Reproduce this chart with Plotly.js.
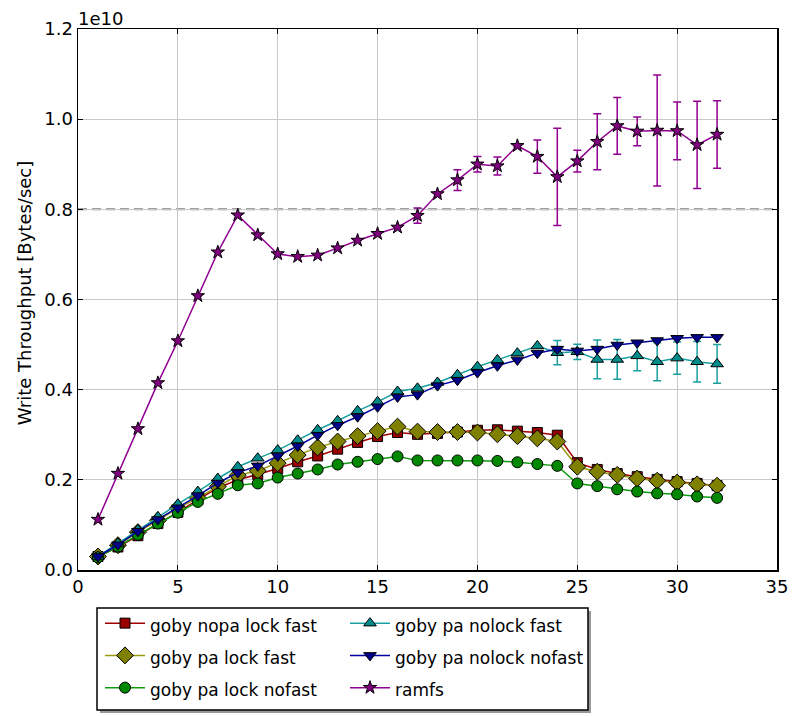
<!DOCTYPE html>
<html>
<head>
<meta charset="utf-8">
<script src="https://cdn.plot.ly/plotly-3.0.1.min.js"></script>
<style>
html,body{margin:0;padding:0;background:#fff;}
#chart{width:799px;height:716px;}
</style>
</head>
<body>
<div id="chart"></div>
<script>
// Thread count (x)
const threads = [1,2,3,4,5,6,7,8,9,10,11,12,13,14,15,16,17,18,19,20,21,22,23,24,25,26,27,28,29,30,31,32];

// Write throughput in units of 1e9 bytes/sec
const nopaLockFast = [0.30,0.51,0.76,1.03,1.28,1.56,1.82,2.00,2.12,2.25,2.40,2.53,2.68,2.83,2.96,3.05,3.01,3.03,3.06,3.10,3.11,3.08,3.05,2.99,2.38,2.23,2.14,2.07,2.01,1.96,1.92,1.87];
const paLockFast = [0.30,0.55,0.84,1.10,1.37,1.60,1.85,2.10,2.20,2.37,2.55,2.72,2.85,2.97,3.08,3.18,3.07,3.06,3.06,3.05,3.01,2.97,2.92,2.85,2.29,2.18,2.11,2.03,1.98,1.94,1.90,1.87];
const paLockNofast = [0.28,0.52,0.78,1.03,1.27,1.51,1.69,1.88,1.92,2.05,2.14,2.23,2.34,2.40,2.46,2.52,2.43,2.43,2.43,2.43,2.42,2.39,2.35,2.31,1.92,1.86,1.79,1.74,1.70,1.68,1.63,1.60];
const paNolockFast = [0.30,0.59,0.89,1.18,1.46,1.74,2.03,2.29,2.48,2.66,2.88,3.11,3.31,3.53,3.73,3.96,4.03,4.16,4.33,4.51,4.66,4.81,4.97,4.82,4.84,4.67,4.67,4.75,4.62,4.70,4.62,4.57];
const paNolockFastErr = [0,0,0,0,0,0,0,0,0,0,0,0,0,0,0,0,0,0,0,0,0,0,0,0.27,0.17,0.43,0.44,0.33,0.42,0.36,0.45,0.43];
const paNolockNofast = [0.30,0.56,0.86,1.12,1.38,1.65,1.93,2.16,2.31,2.53,2.75,2.99,3.21,3.40,3.62,3.84,3.89,4.09,4.21,4.38,4.53,4.66,4.81,4.90,4.86,4.90,4.99,5.04,5.09,5.14,5.16,5.16];
const ramfs = [1.12,2.14,3.13,4.15,5.08,6.08,7.05,7.87,7.43,7.01,6.95,6.98,7.14,7.31,7.46,7.60,7.86,8.34,8.65,9.00,8.96,9.41,9.17,8.72,9.07,9.50,9.85,9.73,9.75,9.74,9.43,9.66];
const ramfsErr = [0,0,0,0,0,0,0,0,0,0,0,0,0,0,0,0,0.17,0.05,0.23,0.17,0.2,0.03,0.37,1.08,0.24,0.62,0.63,0.32,1.23,0.64,0.97,0.75];

// Reference line (1e9 bytes/sec)
const refLine = 8.0;

// Tick labels and texts
const xTicks = [0,5,10,15,20,25,30,35];
const yTickVals = [0,2,4,6,8,10,12];
const yTickText = ['0.0','0.2','0.4','0.6','0.8','1.0','1.2'];
const yTitle = 'Write Throughput [Bytes/sec]';
const offsetText = '1e10';

const seriesNames = ['goby nopa lock fast','goby pa lock fast','goby pa lock nofast','goby pa nolock fast','goby pa nolock nofast','ramfs'];

const scale = 1e9;
const toBytes = a => a.map(v => v * scale);
const legendLabel = s => '<span style="font-size:17px">' + s + '</span>';

function series(name, vals, err, color, lineColor, symbol, size, rank) {
  const t = {
    type: 'scatter', mode: 'lines+markers', name: legendLabel(name),
    x: threads, y: toBytes(vals),
    line: {color: lineColor, width: 1.5},
    marker: {color: color, symbol: symbol, size: size, line: {color: '#000', width: 1}},
    legendrank: rank
  };
  if (err) {
    t.error_y = {type: 'data', array: toBytes(err), visible: true, color: lineColor, thickness: 1.5, width: 4};
  }
  return t;
}

const traces = [
  series(seriesNames[0], nopaLockFast, null, '#990000', '#a00000', 'square', 10, 1),
  series(seriesNames[1], paLockFast, null, '#808000', '#9a9a10', 'diamond', 13, 3),
  series(seriesNames[2], paLockNofast, null, '#008800', '#109a10', 'circle', 11, 5),
  series(seriesNames[3], paNolockFast, paNolockFastErr, '#008b8b', '#1a9f9f', 'triangle-up', 11, 2),
  series(seriesNames[4], paNolockNofast, null, '#000088', '#0000a0', 'triangle-down', 11, 4),
  series(seriesNames[5], ramfs, ramfsErr, '#800080', '#900090', 'star', 10, 6)
];

// pixel -> paper helpers (plot area: x 78..777, y 29..570)
const px2x = p => (p - 78) / 699;
const px2y = p => (570 - p) / 541;

const layout = {
  width: 799, height: 716,
  margin: {l: 78, r: 22, t: 29, b: 146, autoexpand: false},
  paper_bgcolor: '#fff', plot_bgcolor: '#fff',
  font: {family: 'DejaVu Sans', size: 18, color: '#000'},
  showlegend: true,
  xaxis: {
    range: [0, 35], tickvals: xTicks, ticks: 'inside', ticklen: 5, tickwidth: 1, tickcolor: '#000',
    showline: true, linecolor: '#000', linewidth: 1.5, mirror: 'ticks',
    showgrid: true, gridcolor: '#c8c8c8', gridwidth: 1, zeroline: false,
    tickfont: {size: 18}
  },
  yaxis: {
    range: [0, 12e9], tickvals: toBytes(yTickVals), ticktext: yTickText,
    ticks: 'inside', ticklen: 5, tickwidth: 1, tickcolor: '#000',
    showline: true, linecolor: '#000', linewidth: 1.5, mirror: 'ticks',
    showgrid: true, gridcolor: '#c8c8c8', gridwidth: 1, zeroline: false,
    tickfont: {size: 18}
  },
  shapes: [{
    type: 'line', xref: 'paper', x0: 0, x1: 1, yref: 'y', y0: refLine * scale, y1: refLine * scale,
    line: {color: '#808080', width: 2, dash: '9px,5px'}, layer: 'below'
  }, {
    type: 'rect', xref: 'paper', yref: 'paper', x0: px2x(100), x1: px2x(591), y0: px2y(611), y1: px2y(713),
    line: {width: 0}, fillcolor: '#9a9a9a', layer: 'above'
  }, {
    type: 'rect', xref: 'paper', yref: 'paper', x0: px2x(97), x1: px2x(588), y0: px2y(608), y1: px2y(710),
    line: {width: 1.5, color: '#000'}, fillcolor: '#fff', layer: 'above'
  }],
  annotations: [{
    text: offsetText, xref: 'paper', yref: 'paper', x: 0, y: 1, xanchor: 'left', yanchor: 'bottom',
    showarrow: false, font: {size: 18}, xshift: -2, yshift: -2.3
  }, {
    text: yTitle, xref: 'paper', yref: 'paper', x: px2x(24.7), y: px2y(292.5),
    xanchor: 'center', yanchor: 'middle', textangle: -90, showarrow: false, font: {size: 18}
  }],
  legend: {
    orientation: 'h', x: px2x(100), y: px2y(602), xanchor: 'left', yanchor: 'top',
    borderwidth: 0, bgcolor: 'rgba(0,0,0,0)', font: {size: 22.5}, entrywidth: 190, itemwidth: 40
  }
};

Plotly.newPlot('chart', traces, layout, {displayModeBar: false, staticPlot: true});
</script>
</body>
</html>
